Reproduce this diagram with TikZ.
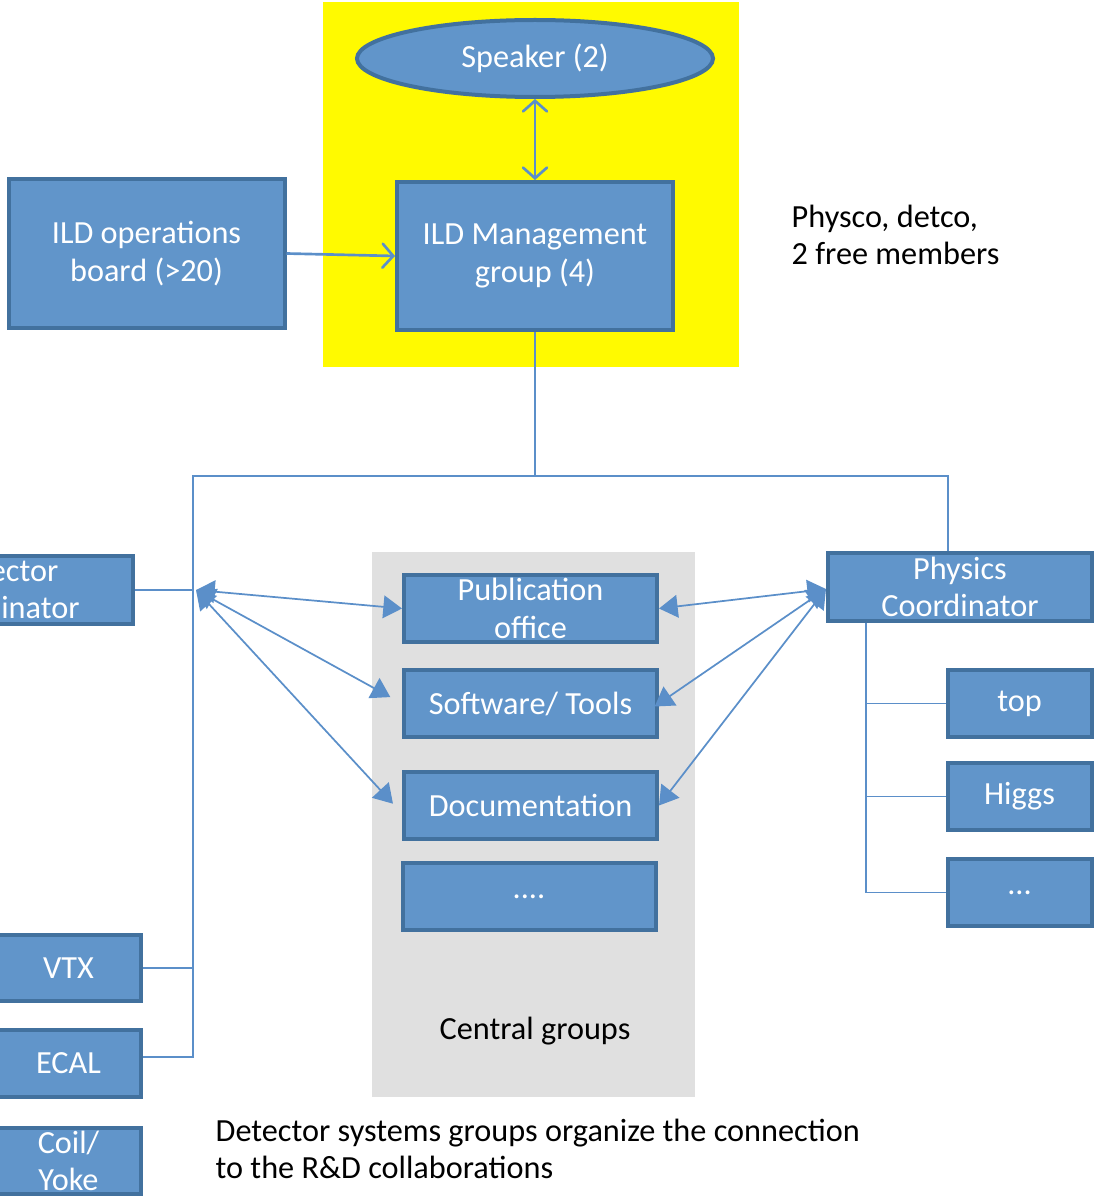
\documentclass[tikz,border=0pt]{standalone}
\usepackage{fontspec}
\setmainfont{Carlito}
\usetikzlibrary{arrows.meta,shapes.geometric}
\definecolor{boxfill}{RGB}{97,149,202}
\definecolor{boxline}{RGB}{66,113,158}
\definecolor{wire}{RGB}{91,143,201}
\definecolor{hilite}{RGB}{255,250,0}
\definecolor{panel}{RGB}{224,224,224}

\begin{document}
\begin{tikzpicture}[x=0.75pt,y=-0.75pt,
  every node/.style={font=\fontsize{24.2}{28}\selectfont},
  blk/.style={rectangle,draw=boxline,line width=3pt,fill=boxfill,text=white,align=center,inner sep=0pt},
  big/.style={blk,minimum width=207pt,minimum height=111pt},
  mid/.style={blk,minimum width=198pt,minimum height=51pt},
  grp/.style={blk,minimum width=189.75pt,minimum height=50.25pt},
  sml/.style={blk,minimum width=108pt,minimum height=50pt},
  conn/.style={wire,line width=1.3pt},
  opn/.style={conn,line width=2pt,-{Straight Barb[length=8pt,width=18pt,line cap=round]}},
  hub/.style={conn,{Triangle[length=14pt,width=17pt]}-{Triangle[length=14pt,width=17pt]}}]
\useasboundingbox (0,0) rectangle (1095,1198);
\fill[hilite] (323,2) rectangle (739,367);
\fill[panel] (372,552) rectangle (695,1097);
\node[ellipse,draw=boxline,line width=3pt,fill=boxfill,text=white,inner sep=0pt,
  minimum width=267pt,minimum height=57.75pt] (spk) at (535,58.5) {Speaker (2)};
\node[big] (mgmt) at (535,256) {ILD Management\\group (4)};
\node[big] (ops) at (146.5,253.5) {ILD operations\\board (>20)};
\node[anchor=west,align=left] (note) at (787,235) {Physco, detco,\\2 free members};
\node[mid] (det) at (1,590) {Detector\\Coordinator};
\node[mid] (phys) at (960,587) {Physics\\Coordinator};
\node[grp] (pub) at (530.5,608.5) {Publication\\office};
\node[grp] (soft) at (530.5,703.5) {Software/ Tools};
\node[grp] (doc) at (530.5,805.5) {Documentation};
\node[grp] (more) at (529,896.5) {....};
\node (central) at (535,1031) {Central groups};
\node[sml] (top) at (1019.5,703.5) {top};
\node[sml] (higgs) at (1019.5,796.5) {Higgs};
\node[sml] (hmore) at (1019.5,892.5) {...};
\node[sml] (vtx) at (68.5,968) {VTX};
\node[sml] (ecal) at (68.5,1063.5) {ECAL};
\node[sml] (coil) at (68.5,1161) {Coil/\\Yoke};
\node[anchor=west,align=left] (foot) at (211,1149) {Detector systems groups organize the connection\\to the R\&D collaborations};
\draw[opn] (ops.east) -- (mgmt.west);
\draw[opn,{Straight Barb[length=8pt,width=18pt,line cap=round]}-{Straight Barb[length=8pt,width=18pt,line cap=round]}] (spk.south) -- (mgmt.north);
\coordinate (split) at (535,476);
\coordinate (lbus) at (193,1057);
\coordinate (rdrop) at (948,551);
\coordinate (tree) at (866,623);
\draw[conn] (mgmt.south) -- (split) -| (rdrop);
\draw[conn] (split) -| (lbus) -- (ecal.east |- lbus);
\draw[conn] (vtx.east) -- (vtx.east -| lbus);
\draw[conn] (det.east) -- (det.east -| lbus);
\draw[conn] (tree) |- (top.west);
\draw[conn] (tree) |- (higgs.west);
\draw[conn] (tree) |- (hmore.west);
\coordinate (lhub) at (196,590);
\coordinate (rhub) at (826,589);
\draw[hub] (lhub) -- (pub.west);
\draw[hub,shorten >=10pt] (lhub) -- (soft.west);
\draw[hub,shorten >=10pt] (lhub) -- ([yshift=-6pt]doc.west);
\draw[hub] (rhub) -- (pub.east);
\draw[hub,shorten >=-4pt] (rhub) -- (soft.east);
\draw[hub] (rhub) -- (doc.east);
\end{tikzpicture}
\end{document}
